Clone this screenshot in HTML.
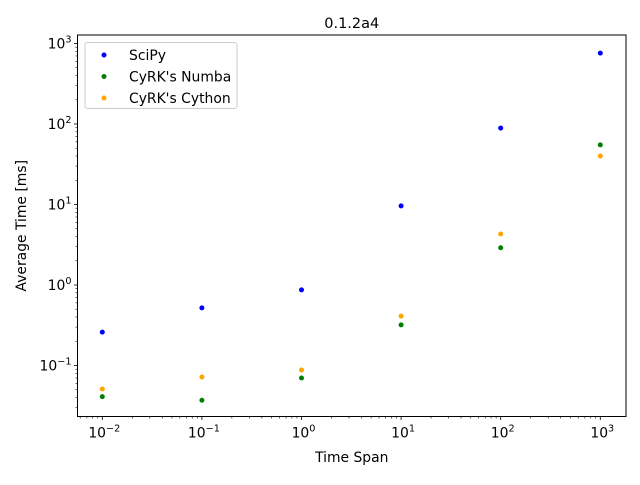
<!DOCTYPE html>
<html><head><meta charset="utf-8"><style>
body{margin:0;background:#fff}
svg text{font-family:"DejaVu Sans","Liberation Sans",sans-serif;fill:#000}
</style></head><body>
<svg width="640" height="480">
<g id="g"></g>
</svg>
<script>
const xValues=[0.01,0.1,1,10,100,1000];
const scipy=[0.26,0.52,0.87,9.6,89,760];
const numba=[0.041,0.037,0.07,0.32,2.9,55];
const cython=[0.051,0.072,0.088,0.41,4.3,40];
const seriesNames=["SciPy","CyRK's Numba","CyRK's Cython"];
const seriesColors=["blue","green","orange"];
const xTickExp=[-2,-1,0,1,2,3];
const yTickExp=[-1,0,1,2,3];
const L=77.5,R=626,T=35,B=416.5;
const X=v=>102.3+(Math.log10(v)+2)*99.6;
const Y=v=>285-Math.log10(v)*80.5;
const ns="http://www.w3.org/2000/svg";
const g=document.getElementById('g');
function mk(t,a,p){const e=document.createElementNS(ns,t);for(const k in a)e.setAttribute(k,a[k]);(p||g).appendChild(e);return e;}
let e=mk('rect',{x:L,y:T,width:R-L,height:B-T,fill:'none',stroke:'#000','stroke-width':1});

for(let d=-3;d<=3;d++){for(let m=1;m<10;m++){const v=m*Math.pow(10,d);const x=X(v);if(x<L||x>R)continue;
 const major=m===1;mk('line',{x1:x,x2:x,y1:B,y2:B+(major?3.5:2),stroke:'#000','stroke-width':major?0.8:0.6});}}
xTickExp.forEach(p=>{const t=mk('text',{x:X(Math.pow(10,p))+2,y:B+21,'text-anchor':'middle','font-size':13.9});
 t.innerHTML='10<tspan dy="-6" font-size="9.7">'+(p<0?'−'+(-p):p)+'</tspan>';
 });
for(let d=-2;d<=3;d++){for(let m=1;m<10;m++){const v=m*Math.pow(10,d);const y=Y(v);if(y<T||y>B)continue;
 const major=m===1;mk('line',{x1:L,x2:L-(major?3.5:2),y1:y,y2:y,stroke:'#000','stroke-width':major?0.8:0.6});}}
yTickExp.forEach(p=>{const t=mk('text',{x:L-6,y:Y(Math.pow(10,p))+5,'text-anchor':'end','font-size':13.9});
 t.innerHTML='10<tspan dy="-6" font-size="9.7">'+(p<0?'−'+(-p):p)+'</tspan>';
 });
[scipy,numba,cython].forEach((s,i)=>{s.forEach((v,j)=>{const c=mk('circle',{cx:X(xValues[j]),cy:Y(v),r:2.5,fill:seriesColors[i]});
 });});
let t=mk('text',{x:(L+R)/2,y:T-7,'text-anchor':'middle','font-size':14.5});t.textContent='0.1.2a4';

t=mk('text',{x:(L+R)/2,y:462,'text-anchor':'middle','font-size':13.9});t.textContent='Time Span';

t=mk('text',{x:26,y:(T+B)/2,'text-anchor':'middle','font-size':13.9,transform:'rotate(-90 26 '+((T+B)/2)+')'});t.textContent='Average Time [ms]';

const lg=mk('g',{});
mk('rect',{x:85,y:42.5,width:152,height:66,rx:2.5,fill:'#fff','fill-opacity':0.8,stroke:'#ccc'},lg);
seriesNames.forEach((n,i)=>{const y=55+i*21.5;
 const c=mk('circle',{cx:104,cy:y,r:2.5,fill:seriesColors[i]},lg);
 
 const tt=mk('text',{x:129,y:y+5,'font-size':13.9},lg);tt.textContent=n;
 });
</script>
</body></html>
